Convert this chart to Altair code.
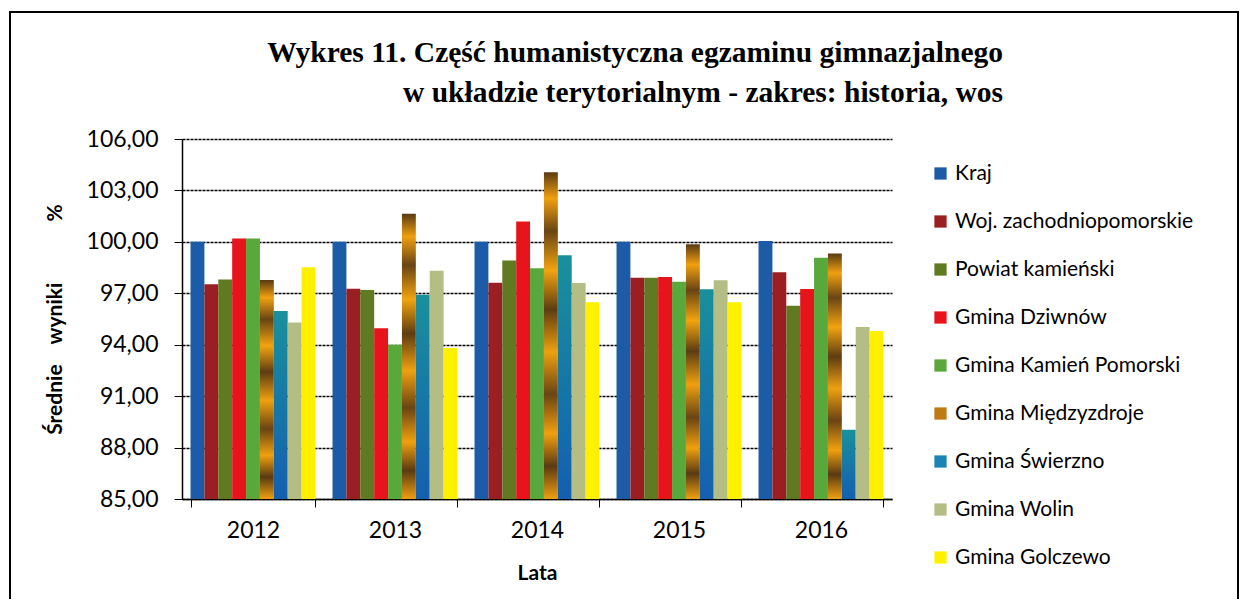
import altair as alt
import pandas as pd

years = ["2012", "2013", "2014", "2015", "2016"]
series = [
    "Kraj",
    "Woj. zachodniopomorskie",
    "Powiat kamieński",
    "Gmina Dziwnów",
    "Gmina Kamień Pomorski",
    "Gmina Międzyzdroje",
    "Gmina Świerzno",
    " Gmina Wolin",
    "Gmina Golczewo",
]
kraj = [100.0, 100.0, 100.0, 100.0, 100.05]
woj = [97.52, 97.27, 97.62, 97.91, 98.23]
powiat = [97.81, 97.19, 98.91, 97.91, 96.28]
dziwnow = [100.2, 94.96, 101.19, 97.95, 97.25]
kamien = [100.2, 94.0, 98.46, 97.68, 99.08]
miedzyzdroje = [97.77, 101.64, 104.06, 99.86, 99.32]
swierzno = [95.96, 96.91, 99.22, 97.23, 89.04]
wolin = [95.29, 98.32, 97.6, 97.76, 95.03]
golczewo = [98.52, 93.81, 96.48, 96.47, 94.8]
colors = ["#1c5ba8", "#9a1f22", "#5f7a20", "#e8141c", "#58a83c",
          "#c07a12", "#1c84b4", "#b4bd84", "#fff000"]
y_ticks = [85, 88, 91, 94, 97, 100, 103, 106]

values = [kraj, woj, powiat, dziwnow, kamien, miedzyzdroje, swierzno, wolin, golczewo]
rows = []
for s, vals in zip(series, values):
    for yr, v in zip(years, vals):
        rows.append({"rok": yr, "seria": s, "wynik": v})
df = pd.DataFrame(rows)

FONT = "Lato"
NB = "\u00a0"

wood = {
    "gradient": "linear", "x1": 0, "y1": 0, "x2": 0, "y2": 1,
    "stops": [
        {"offset": 0.0, "color": "#5a3a12"},
        {"offset": 0.08, "color": "#f0a010"},
        {"offset": 0.18, "color": "#6a4414"},
        {"offset": 0.3, "color": "#f2a410"},
        {"offset": 0.42, "color": "#5e3c12"},
        {"offset": 0.55, "color": "#eea010"},
        {"offset": 0.68, "color": "#6a4414"},
        {"offset": 0.8, "color": "#f0a010"},
        {"offset": 0.9, "color": "#5a3a12"},
        {"offset": 1.0, "color": "#f0a010"},
    ],
}
teal = {
    "gradient": "linear", "x1": 0, "y1": 0, "x2": 0, "y2": 1,
    "stops": [
        {"offset": 0.0, "color": "#19909c"},
        {"offset": 1.0, "color": "#145fb0"},
    ],
}

label_expr = "replace(format(datum.value, '.2f'), '.', ',')"
y_title = "Średnie" + NB * 4 + "wyniki" + NB * 12 + "%"

bars = alt.Chart(df).mark_bar().encode(
    x=alt.X(
        "rok:N",
        sort=years,
        scale=alt.Scale(paddingInner=0.12, paddingOuter=0.06),
        axis=alt.Axis(
            title="Lata", labelAngle=0, labelFont=FONT, labelFontSize=23,
            labelColor="black", labelPadding=12, tickBand="extent", tickSize=8,
            tickColor="black", domainColor="black", titleFont=FONT,
            titleFontSize=21, titleFontWeight="bold", titleColor="black",
            titlePadding=20,
        ),
    ),
    xOffset=alt.XOffset("seria:N", sort=series,
                        scale=alt.Scale(paddingInner=0, paddingOuter=0)),
    y=alt.Y(
        "wynik:Q",
        scale=alt.Scale(domain=[85, 106], zero=False, nice=False),
        axis=alt.Axis(
            title=y_title, values=y_ticks, labelExpr=label_expr,
            labelFont=FONT, labelFontSize=23, labelColor="black",
            labelPadding=16, tickSize=8, tickColor="black", domainColor="black",
            gridColor="#000", gridDash=[3, 1], gridWidth=1.3,
            titleFont=FONT, titleFontSize=21, titleFontWeight="bold",
            titleColor="black", titleX=-127, titleY=180,
            titleAngle=270, titleAlign="center", titleBaseline="middle",
        ),
    ),
    y2=alt.datum(85),
    color=alt.Color(
        "seria:N", sort=series,
        scale=alt.Scale(domain=series, range=colors),
        condition=[
            {"test": "datum.seria == 'Gmina Międzyzdroje'", "value": wood},
            {"test": "datum.seria == 'Gmina Świerzno'", "value": teal},
        ],
        legend=alt.Legend(
            title=None, orient="none", legendX=748, legendY=24,
            labelFont=FONT, labelFontSize=21, labelColor="black",
            symbolType="square", symbolSize=150, symbolStrokeWidth=0,
            rowPadding=26, labelOffset=4, labelLimit=400,
        ),
    ),
)

frame_df = pd.DataFrame({"k": [0]})
frame = alt.Chart(frame_df).mark_rect(
    fill=None, stroke="black", strokeWidth=2
).encode(
    x=alt.value(-172), x2=alt.value(1056),
    y=alt.value(-127), y2=alt.value(520),
)

chart = alt.layer(bars, frame).properties(
    width=710,
    height=360,
    title=alt.TitleParams(
        text=["Wykres 11. Część humanistyczna egzaminu gimnazjalnego",
              "w układzie terytorialnym - zakres: historia, wos"],
        font="Liberation Serif", fontSize=29.5, fontWeight="bold",
        color="black", anchor="start", align="right", dx=994,
        baseline="top", lineHeight=40, offset=0, dy=97,
    ),
    autosize=alt.AutoSizeParams(type="none"),
    padding={"left": 174, "top": 131, "right": 348, "bottom": 100},
).configure_view(stroke=None).configure_axis(
    domainWidth=1.5
)

chart.save("out.html", embed_options={"renderer": "svg", "actions": False})
